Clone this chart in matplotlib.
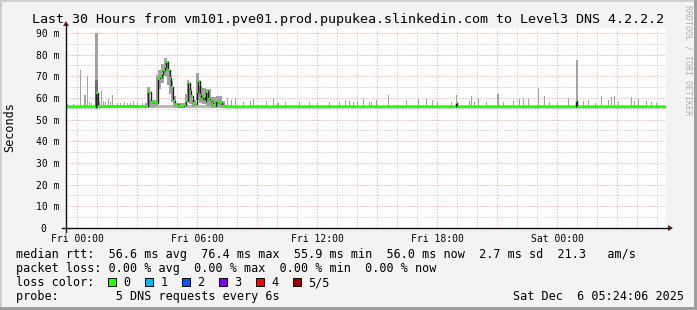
import numpy as np
import matplotlib
matplotlib.use('Agg')
import matplotlib.pyplot as plt
from matplotlib.patches import Rectangle, Polygon
from matplotlib.lines import Line2D

# time axis: hours since Fri 00:00, values in ms
med_h = [-0.6, 0.885, 0.96, 1.06, 3.435, 3.535, 3.685, 3.935, 4.035, 4.135, 4.235,
         4.31, 4.385, 4.46, 4.56, 4.635, 4.72, 4.81, 4.885, 5.035, 5.335, 5.46,
         5.535, 5.635, 5.71, 5.81, 5.91, 5.985, 6.06, 6.135, 6.21, 6.31, 6.385,
         6.46, 6.56, 6.635, 6.735, 6.81, 6.96, 7.06, 7.135, 7.235, 7.435,
         18.93, 18.98, 24.96, 25.02, 29.45]
med_v = [56.0, 56.0, 62.4, 56.3, 56.2, 62.9, 58.0, 57.5, 69.0, 69.8, 71.3,
         72.8, 74.3, 76.7, 72.8, 69.0, 65.2, 58.8, 57.0, 56.2, 56.8, 58.8,
         67.0, 63.4, 61.0, 57.8, 57.0, 62.9, 68.0, 61.4, 59.6, 60.3, 58.5,
         63.0, 59.6, 58.8, 57.5, 56.5, 58.8, 58.0, 57.5, 56.3, 56.0,
         57.5, 56.0, 58.8, 56.0, 56.0]

# thin smoke just around the baseline
band_h = [-0.55, 29.45]
band_lo = [55.5, 55.5]
band_hi = [56.9, 56.9]

# single pixel smoke spikes (hour, top)
spike_h = [-0.465, -0.165, 0.185, 0.36, 0.435, 0.5, 0.635, 0.735, 1.235, 1.335,
           1.435, 1.585, 1.685, 1.785, 2.035, 2.185, 2.385, 2.535, 2.685, 2.835,
           3.035, 3.285, 7.535, 7.735, 7.935,
           8.3, 8.67, 8.835, 9.47, 9.8, 10.0, 10.05, 10.435, 11.135, 11.6, 12.035,
           12.6, 13.135, 13.435, 13.635, 13.835, 14.0, 14.3, 14.6, 14.7, 14.97,
           15.55, 16.47, 17.05, 17.46, 17.75, 18.035, 18.72, 18.97, 19.635,
           19.72, 19.885, 20.05, 20.47, 21.0, 21.05, 21.3, 21.8, 22.135, 22.335,
           22.55, 23.05, 23.385, 23.635, 24.035, 24.55, 24.97, 25.02, 25.3, 25.55,
           25.935, 26.22, 26.55, 26.72, 26.885, 27.06, 27.72, 27.885, 28.05,
           28.47, 28.72, 28.97]
spike_top = [57.0, 57.3, 73.0, 61.4, 61.4, 70.0, 58.0, 57.5, 63.4, 58.5,
             58.0, 59.5, 58.0, 61.4, 57.5, 57.8, 58.0, 57.5, 57.5, 58.5,
             57.6, 57.8, 60.0, 59.0, 60.0,
             58.3, 58.8, 59.4, 58.8, 59.8, 57.5, 57.5, 58.0, 58.3, 58.2, 57.5,
             58.0, 58.0, 59.1, 58.8, 58.2, 58.8, 59.7, 58.2, 58.2, 59.1,
             61.4, 59.1, 59.4, 59.4, 59.1, 58.2, 58.2, 61.4, 58.5,
             60.8, 58.2, 59.9, 58.2, 61.7, 61.7, 58.2, 58.5, 59.4, 59.8,
             59.4, 64.8, 60.8, 58.2, 57.8, 59.8, 77.5, 77.5, 58.5, 59.1,
             57.6, 60.8, 59.1, 60.3, 60.8, 58.2, 60.3, 58.5, 59.4,
             58.5, 58.2, 57.8]

# wider smoke blocks in the busy morning
blk_h0 = [0.91, 1.075, 3.385, 3.485, 3.635, 3.935, 4.035, 4.185, 4.335, 4.485,
          4.585, 4.685, 4.785, 4.935, 5.385, 5.485, 5.61, 5.735, 5.935, 6.11,
          6.235, 6.435, 6.685, 6.935, 7.235]
blk_h1 = [1.035, 1.125, 3.485, 3.635, 3.935, 4.035, 4.185, 4.335, 4.485, 4.585,
          4.685, 4.785, 4.935, 5.385, 5.485, 5.61, 5.735, 5.935, 6.11, 6.235,
          6.435, 6.685, 6.935, 7.235, 7.385]
blk_lo = [55.0, 54.8, 55.6, 56.0, 56.0, 56.5, 64.0, 67.0, 70.0, 66.0,
          62.0, 58.0, 56.0, 55.5, 56.5, 58.0, 57.0, 56.0, 59.0, 57.5,
          57.0, 56.5, 56.0, 56.0, 55.8]
blk_hi = [90.0, 58.0, 57.5, 65.2, 59.0, 70.5, 73.0, 75.5, 78.3, 77.0,
          73.0, 68.0, 61.0, 57.5, 62.0, 68.3, 64.0, 59.0, 71.4, 65.5,
          64.5, 64.0, 60.5, 61.0, 58.5]

# darker core of the 01:00 spike
core_h0 = [0.91]
core_h1 = [1.035]
core_lo = [56.0]
core_hi = [68.3]

x_ticks = [0, 6, 12, 18, 24]
x_labels = ['Fri 00:00', 'Fri 06:00', 'Fri 12:00', 'Fri 18:00', 'Sat 00:00']
y_ticks = [0, 10, 20, 30, 40, 50, 60, 70, 80, 90]
y_labels = ['0  ', '10 m', '20 m', '30 m', '40 m', '50 m', '60 m', '70 m', '80 m', '90 m']

loss_names = ['0', '1', '2', '3', '4', '5/5']
loss_colors = ['#26ff00', '#00b8ff', '#0059ff', '#7e00ff', '#ff0000', '#a10000']

W, H = 697, 310
MONO = 'DejaVu Sans Mono'
plt.rcParams['font.family'] = [MONO, 'DejaVu Sans']


def fx(x):
    return x / W


def fy(y):
    return 1 - y / H


fig = plt.figure(figsize=(W / 100, H / 100), dpi=100, facecolor='#f3f3f3')

# frame shading
fig.add_artist(Rectangle((0, fy(2)), 1, 2 / H, transform=fig.transFigure, color='#cfcfcf', lw=0))
fig.add_artist(Rectangle((0, 0), 2 / W, 1, transform=fig.transFigure, color='#cfcfcf', lw=0))
fig.add_artist(Rectangle((0, 0), 1, 3 / H, transform=fig.transFigure, color='#9e9e9e', lw=0))
fig.add_artist(Rectangle((fx(694), 0), 3 / W, 1, transform=fig.transFigure, color='#9e9e9e', lw=0))

ax = fig.add_axes([fx(66), fy(228), 600 / W, 200 / H])
ax.set_facecolor('white')
ax.set_xlim(-0.55, 29.45)
ax.set_ylim(0, 200 / 2.1667)
for s in ax.spines.values():
    s.set_visible(False)

# grid
for v in range(5, 95, 5):
    c = '#e89494' if v % 10 == 0 else '#bcbcbc'
    ax.axhline(v, color=c, lw=0.72, ls=(0, (1, 2)), zorder=1)
for h in range(0, 30):
    c = '#e89494' if h % 3 == 0 else '#bcbcbc'
    ax.axvline(h, color=c, lw=0.72, ls=(0, (1, 2)), zorder=1)

# smoke
ax.fill_between(band_h, band_lo, band_hi, color='#b8b8b8', lw=0, zorder=2)
ax.bar(blk_h0, np.array(blk_hi) - np.array(blk_lo), width=np.array(blk_h1) - np.array(blk_h0),
       bottom=blk_lo, align='edge', color='#a2a2a2', lw=0, zorder=2)
ax.bar(spike_h, np.array(spike_top) - 56.0, width=0.05, bottom=56.0,
       color='#a2a2a2', lw=0, zorder=2)
ax.bar(core_h0, np.array(core_hi) - np.array(core_lo), width=np.array(core_h1) - np.array(core_h0),
       bottom=core_lo, align='edge', color='#707070', lw=0, zorder=2)

# median line + loss colour band
mv = np.array(med_v)
ax.step(med_h, med_v, where='post', color='#202020', lw=1.0, zorder=3)
ax.fill_between(med_h, mv - 0.5, mv + 0.5, step='post', color=loss_colors[0], lw=0, zorder=4)

ax.set_xticks(x_ticks, x_labels, fontsize=7)
ax.set_yticks(y_ticks, y_labels, fontsize=7)
ax.tick_params(length=0, pad=4)
ax.tick_params(axis='y', pad=5)

# axes with arrows
fig.add_artist(Line2D([fx(62), fx(670)], [fy(228), fy(228)], color='#101010', lw=1.0))
fig.add_artist(Line2D([fx(66), fx(66)], [fy(232), fy(24)], color='#101010', lw=1.0))
fig.add_artist(Polygon([[fx(668), fy(225)], [fx(668), fy(231)], [fx(673), fy(228)]],
                       closed=True, transform=fig.transFigure, color='#7f1f1f', lw=0))
fig.add_artist(Polygon([[fx(63), fy(26)], [fx(69), fy(26)], [fx(66), fy(21)]],
                       closed=True, transform=fig.transFigure, color='#7f1f1f', lw=0))

# texts
fig.text(fx(32.5), fy(23), 'Last 30 Hours from vm101.pve01.prod.pupukea.slinkedin.com to Level3 DNS 4.2.2.2',
         fontsize=9.6, ha='left', va='baseline')
fig.text(fx(10), fy(127), 'Seconds', rotation=90, fontsize=8.5, ha='center', va='center')
fig.text(fx(688), fy(60), 'RRDTOOL / TOBI OETIKER', rotation=270, fontsize=6,
         color='#b0b0b0', ha='center', va='center')

fs = 8.5
fig.text(fx(16), fy(258), 'median rtt:  56.6 ms avg  76.4 ms max  55.9 ms min  56.0 ms now  2.7 ms sd  21.3   am/s',
         fontsize=fs, va='baseline')
fig.text(fx(16), fy(272), 'packet loss: 0.00 % avg  0.00 % max  0.00 % min  0.00 % now',
         fontsize=fs, va='baseline')
fig.text(fx(16), fy(286), 'loss color:', fontsize=fs, va='baseline')
for i, (name, col) in enumerate(zip(loss_names, loss_colors)):
    bx = 108 + 37.05 * i
    fig.add_artist(Rectangle((fx(bx), fy(286)), 8 / W, 8 / H, transform=fig.transFigure,
                             facecolor=col, edgecolor='black', lw=0.7))
    fig.text(fx(bx + 15.3), fy(286), name, fontsize=fs, va='baseline')
fig.text(fx(16), fy(300), 'probe:        5 DNS requests every 6s', fontsize=fs, va='baseline')
fig.text(fx(513), fy(300), 'Sat Dec  6 05:24:06 2025', fontsize=fs, va='baseline')

fig.savefig('out.png', dpi=100, facecolor=fig.get_facecolor())
